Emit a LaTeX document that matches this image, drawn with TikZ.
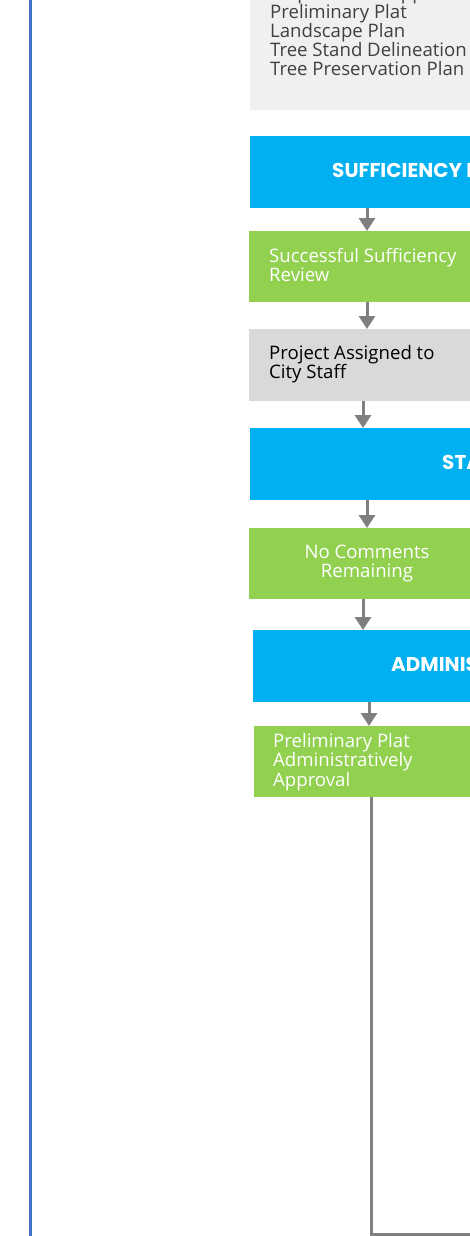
\documentclass[tikz,border=0pt]{standalone}
\usepackage{fontspec}
\setmainfont{Open Sans}
\newfontfamily\headfont{Poppins}
\usetikzlibrary{arrows.meta}
\definecolor{cblue}{HTML}{00B0F0}
\definecolor{cgreen}{HTML}{92D050}
\definecolor{lgray}{HTML}{F0F0F0}
\definecolor{mgray}{HTML}{D9D9D9}
\definecolor{agray}{HTML}{7F7F7F}
\definecolor{tgray}{HTML}{404040}
\definecolor{lblue}{HTML}{4472C4}
\tikzset{
  box/.style={rectangle, draw=none, inner sep=0, anchor=north west, minimum width=240pt},
  txt/.style={inner sep=0, anchor=base west},
  ctxt/.style={inner sep=0, anchor=base},
  head/.style={inner sep=0, anchor=base west, text=white, font=\headfont\bfseries\fontsize{20}{24}\selectfont},
  arr/.style={draw=agray, line width=3pt, -{Triangle[width=16pt,length=13pt]}},
  conn/.style={draw=agray, line width=3pt},
  border/.style={draw=lblue, line width=2.4pt}
}
\begin{document}
\begin{tikzpicture}[x=1pt,y=1pt]
\useasboundingbox (0,0) rectangle (470,-1236);
\clip (0,0) rectangle (470,-1236);
% left border line
\coordinate (bt) at (30.5,10);
\coordinate (bb) at (30.5,-1250);
\draw[border] (bt) -- (bb);
% boxes
\node[box, fill=lgray, minimum height=140pt] (docs) at (250,30) {};
\node[box, fill=cblue, minimum height=72pt] (suff) at (250,-136) {};
\node[box, fill=cgreen, minimum height=71pt] (ok1) at (249,-231) {};
\node[box, fill=mgray, minimum height=72pt] (assign) at (249,-329) {};
\node[box, fill=cblue, minimum height=72pt] (staff) at (250,-428) {};
\node[box, fill=cgreen, minimum height=71pt] (nocom) at (249,-528) {};
\node[box, fill=cblue, minimum height=72pt] (admin) at (253,-630) {};
\node[box, fill=cgreen, minimum height=71pt] (prelim) at (254,-726) {};
% texts
\node[txt, text=tgray, font=\fontsize{18.6}{19}\selectfont] (docstxt) at (270,0)
  {\parbox[t]{260pt}{\raggedright Map and Plat Approval\\Preliminary Plat\\Landscape Plan\\Tree Stand Delineation\\Tree Preservation Plan}};
\node[head] (sufftxt) at (332,-177) {SUFFICIENCY REVIEW};
\node[txt, text=white, font=\fontsize{18.6}{18}\selectfont] (ok1txt) at (269,-262)
  {\parbox[t]{260pt}{\raggedright Successful Sufficiency\\Review}};
\node[txt, text=black, font=\fontsize{18.6}{19}\selectfont] (assigntxt) at (269,-359)
  {\parbox[t]{260pt}{\raggedright Project Assigned to\\City Staff}};
\node[head] (stafftxt) at (442,-469) {STAFF REVIEW};
\node[ctxt, text=white, font=\fontsize{18.6}{19}\selectfont] (nocomtxt) at (367,-558)
  {\parbox[t]{200pt}{\centering No Comments\\Remaining}};
\node[head] (admintxt) at (391,-671) {ADMINISTRATIVE APPROVAL};
\node[txt, text=white, font=\fontsize{18.6}{18.5}\selectfont] (prelimtxt) at (273,-747)
  {\parbox[t]{260pt}{\raggedright Preliminary Plat\\Administratively\\Approval}};
% arrows
\draw[arr] (suff.south -| 367,0) -- (ok1.north -| 367,0);
\draw[arr] (ok1.south -| 367,0) -- (assign.north -| 367,0);
\draw[arr] (assign.south -| 363,0) -- (staff.north -| 363,0);
\draw[arr] (staff.south -| 367,0) -- (nocom.north -| 367,0);
\draw[arr] (nocom.south -| 363,0) -- (admin.north -| 363,0);
\draw[arr] (admin.south -| 369,0) -- (prelim.north -| 369,0);
% final connector
\coordinate (endR) at (480,-1234);
\draw[conn] (prelim.south -| 371,0) |- (endR);
\end{tikzpicture}
\end{document}
